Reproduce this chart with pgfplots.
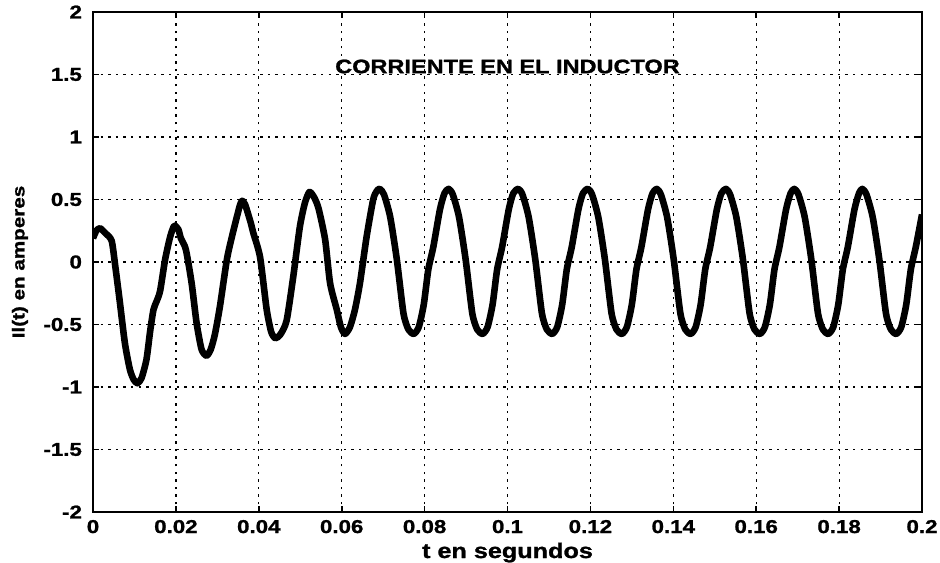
\documentclass[border=0pt]{standalone}
\usepackage{pgfplots}
\pgfplotsset{compat=1.18}
\usepackage{fontspec}
\setmainfont{Liberation Sans}
\newfontfamily\wfont{Liberation Sans}[FakeStretch=1.2, BoldFeatures={FakeBold=1.2}]
\begin{document}
\begin{tikzpicture}
\begin{axis}[
  name=ax,
  scale only axis,
  width=414.5pt, height=250pt,
  xmin=0, xmax=0.2, ymin=-2, ymax=2,
  xtick={0,0.02,0.04,0.06,0.08,0.1,0.12,0.14,0.16,0.18,0.2},
  xticklabels={0,0.02,0.04,0.06,0.08,0.1,0.12,0.14,0.16,0.18,0.2},
  ytick={-2,-1.5,-1,-0.5,0,0.5,1,1.5,2},
  yticklabels={-2,-1.5,-1,-0.5,0,0.5,1,1.5,2},
  xticklabel style={font=\wfont\bfseries\fontsize{9.3}{10}\selectfont, anchor=base, yshift=-10.5pt},
  yticklabel style={font=\wfont\bfseries\fontsize{9.3}{10}\selectfont, anchor=east, xshift=-2pt},
  xlabel={t en segundos},
  ylabel={Il(t) en amperes},
  xlabel style={font=\wfont\bfseries\fontsize{10.5}{12}\selectfont, at={(axis description cs:0.5,-0.092)}, anchor=base},
  ylabel style={font=\wfont\bfseries\fontsize{8.6}{10}\selectfont, at={(axis description cs:-0.0881,0.5)}, anchor=center},
  grid=major,
  major grid style={black, line width=0.6pt, dash pattern=on 1.2pt off 2.6pt},
  axis line style={black, line width=0.8pt},
  tick style={black, line width=0.8pt},
  major tick length=3pt,
  tick align=inside,
  xtick pos=both, ytick pos=both,
]
\addplot[black, line width=3.3pt, smooth, tension=0.4, line join=round] coordinates {
(0,0.19) (0.0008,0.25) (0.0017,0.27) (0.0030,0.23) (0.0045,0.17)
(0.0054,-0.04) (0.0064,-0.30) (0.0077,-0.65) (0.0089,-0.86) (0.0098,-0.94)
(0.0107,-0.97) (0.0117,-0.93) (0.0129,-0.78) (0.0138,-0.55) (0.0146,-0.38)
(0.0154,-0.31) (0.0162,-0.23) (0.0174,0.02) (0.0186,0.20) (0.0196,0.29)
(0.0206,0.26) (0.0212,0.19) (0.0224,0.10) (0.0238,-0.17) (0.0250,-0.49)
(0.0262,-0.70) (0.0274,-0.75) (0.0284,-0.70) (0.0294,-0.58) (0.0306,-0.36)
(0.0323,0.02) (0.0335,0.20) (0.0347,0.36) (0.0355,0.46) (0.0360,0.49)
(0.0367,0.46) (0.0380,0.32) (0.0387,0.23) (0.0403,0.04) (0.0419,-0.38)
(0.0430,-0.56) (0.0440,-0.61) (0.0452,-0.58) (0.0467,-0.47) (0.0483,-0.12)
(0.0499,0.28) (0.0511,0.47) (0.0522,0.56) (0.0533,0.52) (0.0544,0.43)
(0.0560,0.18) (0.0572,-0.17) (0.0588,-0.38) (0.0598,-0.52) (0.0608,-0.575)
(0.0620,-0.52) (0.0632,-0.38) (0.0644,-0.17) (0.0660,0.20) (0.0676,0.50)
(0.0685,0.57)
(0.0692,0.585) (0.0702,0.54) (0.0717,0.36) (0.0733,0.02) (0.0749,-0.41)
(0.0761,-0.54) (0.0774,-0.575) (0.0786,-0.52) (0.0798,-0.34) (0.0809,-0.06)
(0.0821,0.12) (0.0837,0.42) (0.0848,0.55)
(0.0858,0.585) (0.0868,0.54) (0.0883,0.36) (0.0899,0.02) (0.0915,-0.41)
(0.0927,-0.54) (0.0940,-0.575) (0.0952,-0.52) (0.0964,-0.34) (0.0975,-0.06)
(0.0987,0.12) (0.1003,0.42) (0.1014,0.55)
(0.1026,0.585) (0.1036,0.54) (0.1051,0.36) (0.1067,0.02) (0.1083,-0.41)
(0.1095,-0.54) (0.1108,-0.575) (0.1120,-0.52) (0.1132,-0.34) (0.1143,-0.06)
(0.1155,0.12) (0.1171,0.42) (0.1182,0.55)
(0.1194,0.585) (0.1204,0.54) (0.1219,0.36) (0.1235,0.02) (0.1251,-0.41)
(0.1263,-0.54) (0.1276,-0.575) (0.1288,-0.52) (0.1300,-0.34) (0.1311,-0.06)
(0.1323,0.12) (0.1339,0.42) (0.1350,0.55)
(0.1360,0.585) (0.1370,0.54) (0.1385,0.36) (0.1401,0.02) (0.1417,-0.41)
(0.1429,-0.54) (0.1442,-0.575) (0.1454,-0.52) (0.1466,-0.34) (0.1477,-0.06)
(0.1489,0.12) (0.1505,0.42) (0.1516,0.55)
(0.1527,0.585) (0.1537,0.54) (0.1552,0.36) (0.1568,0.02) (0.1584,-0.41)
(0.1596,-0.54) (0.1609,-0.575) (0.1621,-0.52) (0.1633,-0.34) (0.1644,-0.06)
(0.1656,0.12) (0.1672,0.42) (0.1683,0.55)
(0.1692,0.585) (0.1702,0.54) (0.1717,0.36) (0.1733,0.02) (0.1749,-0.41)
(0.1761,-0.54) (0.1774,-0.575) (0.1786,-0.52) (0.1798,-0.34) (0.1809,-0.06)
(0.1821,0.12) (0.1837,0.42) (0.1848,0.55)
(0.1856,0.585) (0.1866,0.54) (0.1881,0.36) (0.1897,0.02) (0.1913,-0.41)
(0.1925,-0.54) (0.1938,-0.575) (0.1950,-0.52) (0.1962,-0.34) (0.1973,-0.06)
(0.1985,0.12) (0.2000,0.38)
};
\node[font=\wfont\bfseries\fontsize{9.8}{11}\selectfont, anchor=base] at (axis cs:0.1,1.51) {CORRIENTE EN EL INDUCTOR};
\end{axis}
\pgfresetboundingbox
\path ([shift={(-46.5pt,-25pt)}]ax.south west) rectangle ([shift={(9pt,6pt)}]ax.north east);
\end{tikzpicture}
\end{document}
